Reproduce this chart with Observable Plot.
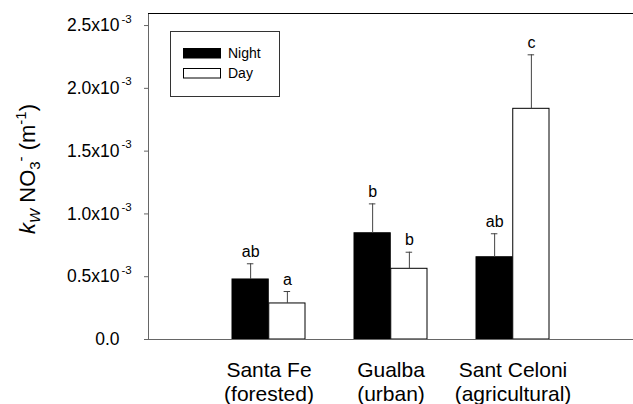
<!DOCTYPE html>
<html><head><meta charset="utf-8">
<script src="https://cdn.jsdelivr.net/npm/d3@7"></script>
<script src="https://cdn.jsdelivr.net/npm/@observablehq/plot@0.6"></script>
<style>
body{margin:0;background:#fff;}
#chart svg{display:block}
</style>
</head><body><div id="chart"></div>
<script>
const sites = ["Santa Fe", "Gualba", "Sant Celoni"];
const landUse = ["(forested)", "(urban)", "(agricultural)"];
const seriesNames = ["Night", "Day"];
const nightMean = [0.478e-3, 0.846e-3, 0.655e-3];
const nightSE = [0.125e-3, 0.234e-3, 0.187e-3];
const dayMean = [0.287e-3, 0.563e-3, 1.837e-3];
const daySE = [0.095e-3, 0.132e-3, 0.430e-3];
const nightLetters = ["ab", "b", "ab"];
const dayLetters = ["a", "b", "c"];
const yTicks = [0, 0.5e-3, 1.0e-3, 1.5e-3, 2.0e-3, 2.5e-3];
const yMax = 2.596e-3;

const night = sites.map((s, i) => ({site: s, mean: nightMean[i], se: nightSE[i], letter: nightLetters[i]}));
const day = sites.map((s, i) => ({site: s, mean: dayMean[i], se: daySE[i], letter: dayLetters[i]}));

const HALF = 36.75;      // half of the group band (one bar width)
const CAP = 3.5;
const errColor = "#444";
const axisColor = "#666";
const FONT = "'Liberation Sans', Arial, sans-serif";

const chart = Plot.plot({
  width: 633,
  height: 404,
  marginLeft: 148,
  marginRight: 0,
  marginTop: 13,
  marginBottom: 65,
  style: {fontFamily: FONT, background: "white", color: "black"},
  x: {type: "band", domain: sites, paddingInner: 0.398, paddingOuter: 0.685, align: 0.504, axis: null},
  y: {domain: [0, yMax], axis: null, label: null},
  marks: [
    Plot.barY(night, {x: "site", y: "mean", fill: "black", stroke: "black", insetRight: HALF}),
    Plot.barY(day, {x: "site", y: "mean", fill: "white", stroke: "black", insetLeft: HALF}),
    Plot.ruleX(night, {x: "site", y1: "mean", y2: d => d.mean + d.se, dx: -HALF / 2, stroke: errColor}),
    Plot.ruleX(day, {x: "site", y1: "mean", y2: d => d.mean + d.se, dx: HALF / 2, stroke: errColor}),
    Plot.tickY(night, {x: "site", y: d => d.mean + d.se, insetLeft: HALF / 2 - CAP, insetRight: HALF * 1.5 - CAP, stroke: errColor}),
    Plot.tickY(day, {x: "site", y: d => d.mean + d.se, insetLeft: HALF * 1.5 - CAP, insetRight: HALF / 2 - CAP, stroke: errColor}),
    Plot.text(night, {x: "site", y: d => d.mean + d.se, text: "letter", dx: -HALF / 2, dy: -7, lineAnchor: "bottom", fontSize: 16}),
    Plot.text(day, {x: "site", y: d => d.mean + d.se, text: "letter", dx: HALF / 2, dy: -7, lineAnchor: "bottom", fontSize: 16}),
    Plot.frame({anchor: "left", stroke: axisColor}),
    Plot.ruleY([0], {stroke: axisColor}),
    Plot.ruleY([yMax], {stroke: "black"}),
    Plot.axisY(yTicks, {
      tickSize: 4, tickPadding: 25, stroke: axisColor, fontSize: 17.5, label: null,
      tickFormat: d => d === 0 ? "0.0" : (d * 1e3).toFixed(1) + "x10"
    }),
    Plot.text(yTicks.filter(d => d > 0), {y: d => d, frameAnchor: "left", text: () => "-3", textAnchor: "start", dx: -27, dy: -3, lineAnchor: "bottom", fontSize: 11.5}),
    Plot.text(sites, {x: d => d, frameAnchor: "bottom", dy: 37, lineAnchor: "bottom", fontSize: 21}),
    Plot.text(sites, {x: d => d, text: (d, i) => landUse[i], frameAnchor: "bottom", dy: 61, lineAnchor: "bottom", fontSize: 21})
  ]
});

document.getElementById("chart").appendChild(chart);

const svg = d3.select(chart);

// Y-axis title: k_W NO3^- (m^-1)
const t = svg.append("text")
  .attr("transform", "translate(35,169) rotate(-90)")
  .attr("text-anchor", "middle")
  .attr("font-family", FONT)
  .attr("font-size", 22)
  .attr("fill", "black");
t.append("tspan").attr("font-style", "italic").text("k");
t.append("tspan").attr("font-style", "italic").attr("font-size", 15).attr("dy", 5).text("W");
t.append("tspan").attr("dy", -5).text(" NO");
t.append("tspan").attr("font-size", 15).attr("dy", 5).text("3");
t.append("tspan").attr("font-size", 15).attr("dy", -14).text("-");
t.append("tspan").attr("dy", 9).text(" (m");
t.append("tspan").attr("font-size", 15).attr("dy", -9).text("-1");
t.append("tspan").attr("dy", 9).text(")");

// Legend
const lg = svg.append("g").attr("font-family", FONT).attr("font-size", 14).attr("text-anchor", "start");
lg.append("rect").attr("x", 170.5).attr("y", 31.5).attr("width", 109).attr("height", 65)
  .attr("fill", "white").attr("stroke", "#333");
const swatchFill = ["black", "white"];
seriesNames.forEach((name, i) => {
  lg.append("rect").attr("x", 183.5).attr("y", 48.5 + i * 20).attr("width", 37).attr("height", 9.5)
    .attr("fill", swatchFill[i]).attr("stroke", "black");
  lg.append("text").attr("x", 228).attr("y", 58 + i * 20).attr("fill", "black").text(name);
});
</script>
</body></html>
